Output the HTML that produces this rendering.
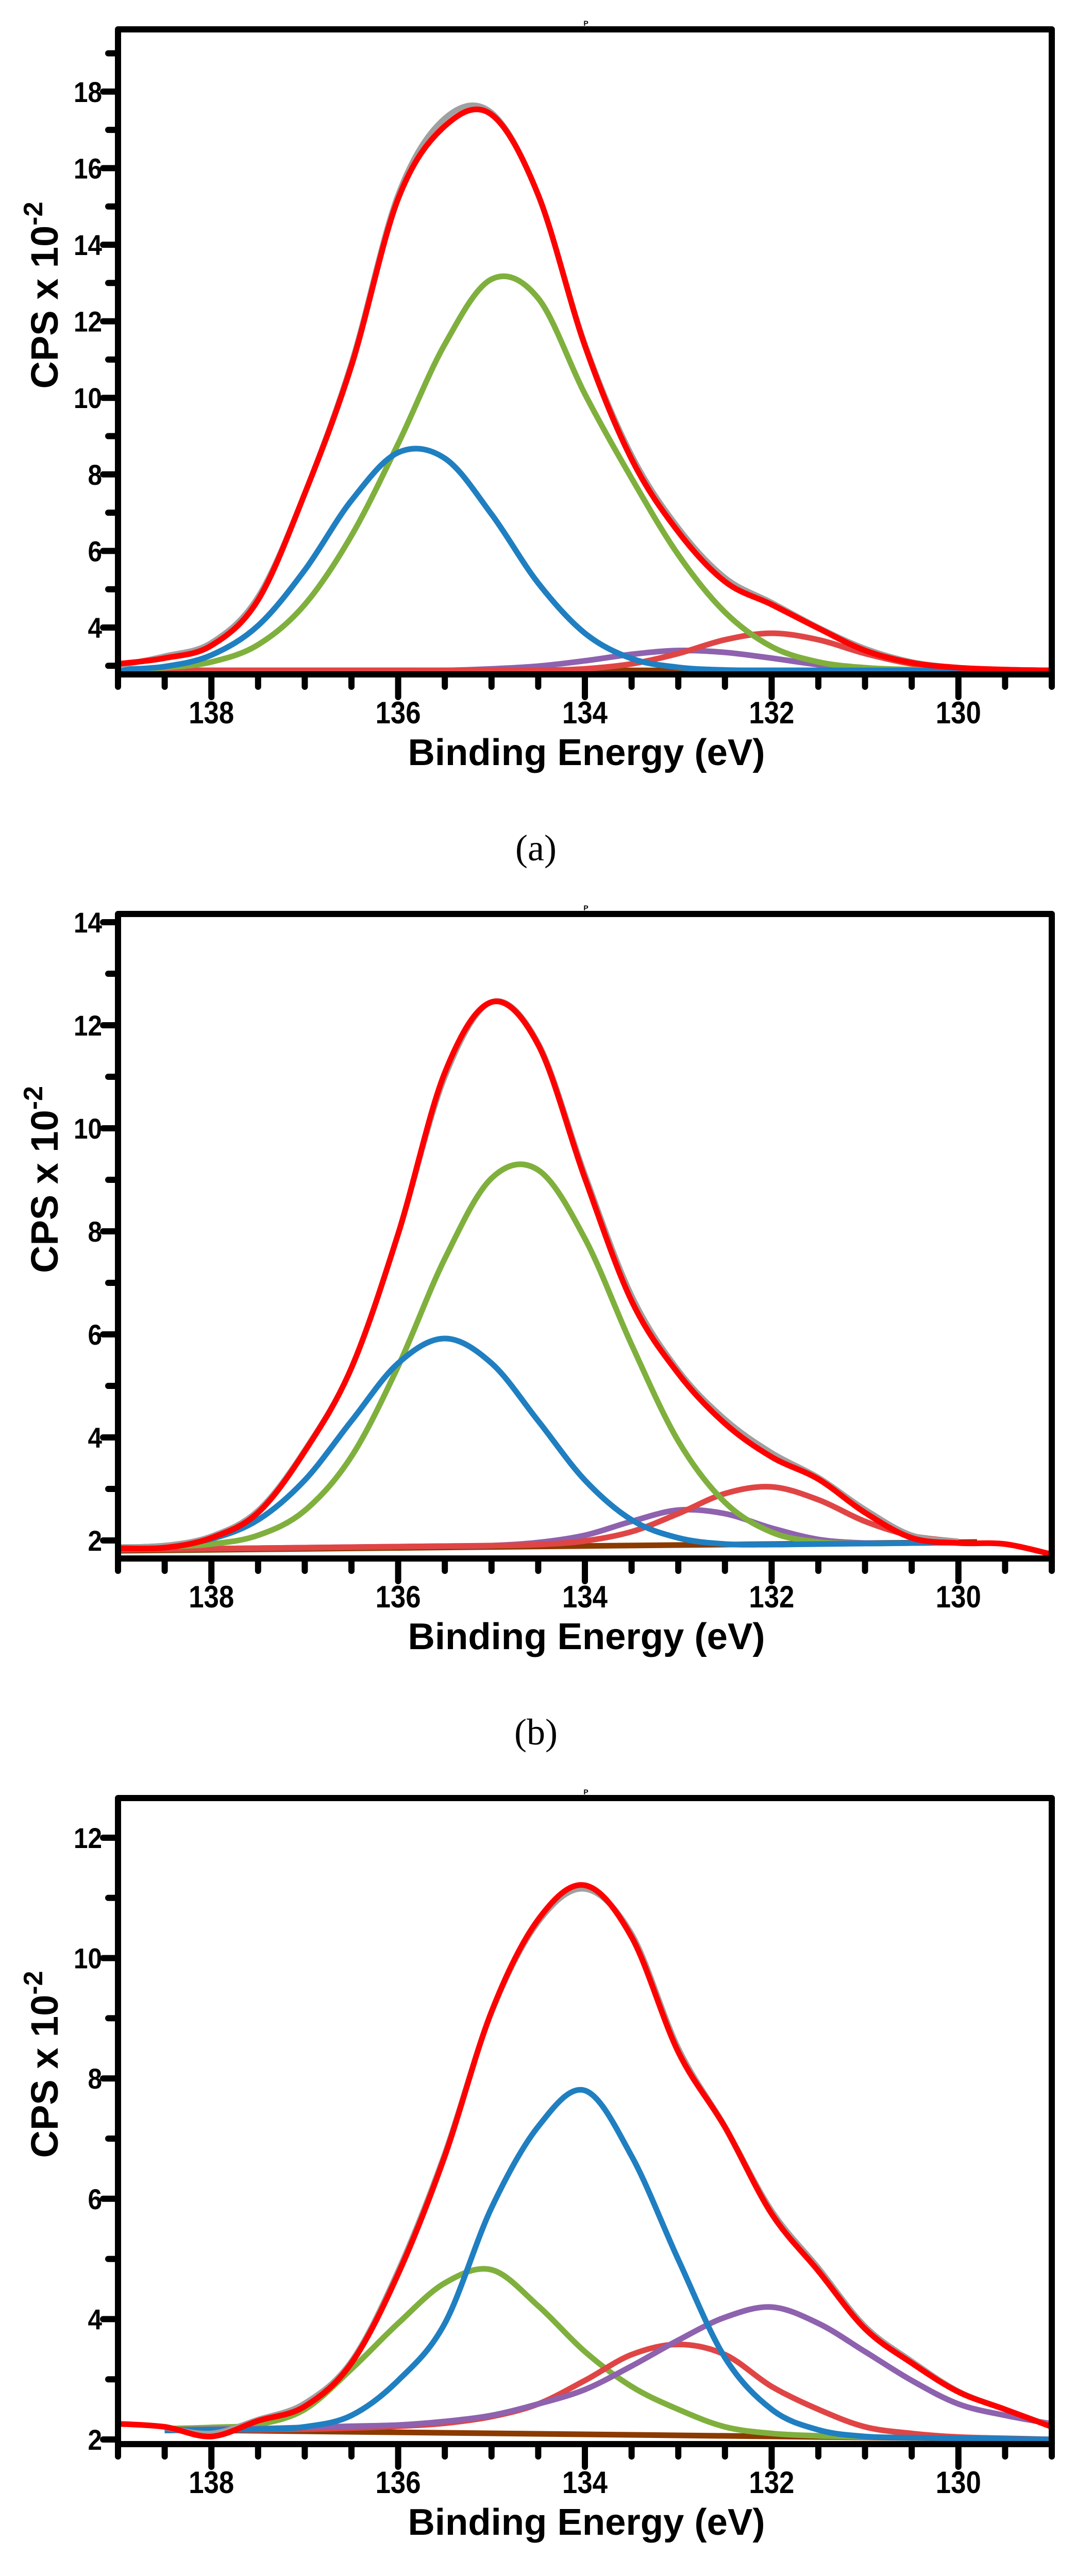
<!DOCTYPE html>
<html><head><meta charset="utf-8">
<style>
html,body{margin:0;padding:0;background:#fff;width:2088px;height:5153px;overflow:hidden;}
svg{display:block;position:absolute;left:0;top:0;}
</style></head>
<body>
<svg id="fig" width="2088" height="5153" viewBox="0 0 2088 5153" xmlns="http://www.w3.org/2000/svg" overflow="hidden"></svg>
<script>
// ---- data (binding energy grid, eV) ----
const energies = [139,138.5,138,137.5,137,136.5,136,135.5,135,134.5,134,133.5,133,132.5,132,131.5,131,130.5,130,129.5,129];
const yTicksA = [4,6,8,10,12,14,16,18];
const yTicksB = [2,4,6,8,10,12,14];
const yTicksC = [2,4,6,8,10,12];
const xTickLabels = [138,136,134,132,130];

// panel (a)
const aGrey  = [3.0,3.25,3.6,4.8,7.5,10.9,15.3,17.3,17.45,15.3,11.4,8.5,6.6,5.3,4.65,4.0,3.45,3.1,2.95,2.9,2.88];
const aRed   = [3.05,3.2,3.53,4.72,7.5,10.84,15.2,17.1,17.4,15.3,11.36,8.4,6.5,5.2,4.6,3.98,3.4,3.08,2.95,2.9,2.88];
const aBlue  = [2.90,2.98,3.28,4.05,5.50,7.32,8.57,8.42,6.96,5.16,3.85,3.19,2.96,2.89,2.88,2.88,2.88,2.88,2.88,2.88,2.88];
const aGreen = [2.90,2.95,3.10,3.55,4.6,6.4,8.8,11.4,13.1,12.6,10.1,7.9,5.9,4.4,3.5,3.1,2.95,2.9,2.88,2.88,2.88];
const aComp  = [2.88,2.88,2.88,2.88,2.88,2.88,2.88,2.88,2.88,2.88,2.92,3.05,3.32,3.68,3.85,3.68,3.32,3.05,2.92,2.89,2.88];
const aPurple= [2.88,2.88,2.88,2.88,2.88,2.88,2.88,2.88,2.92,2.99,3.13,3.30,3.40,3.35,3.20,3.03,2.94,2.89,2.88,2.88,2.88];
const aBaseE = [139,129];
const aBase  = [2.88,2.88];

// panel (b)
const bGrey  = [1.87,1.9,2.08,2.58,3.75,5.35,7.95,11.0,12.45,11.65,9.1,6.75,5.3,4.35,3.7,3.22,2.6,2.1,1.98,null,null];
const bRed   = [1.85,1.86,2.05,2.54,3.73,5.35,7.95,11.08,12.45,11.62,9.03,6.65,5.24,4.27,3.62,3.19,2.54,2.05,1.95,1.93,1.73];
const bBlue  = [1.86,1.9,2.03,2.40,3.17,4.32,5.44,5.92,5.44,4.32,3.17,2.40,2.05,1.93,1.92,1.93,1.94,1.95,1.96,null,null];
const bGreen = [1.87,1.88,1.93,2.1,2.58,3.63,5.38,7.47,9.03,9.19,7.86,5.8,3.93,2.74,2.16,1.97,1.94,1.95,1.96,null,null];
const bComp  = [1.82,1.83,1.84,1.85,1.86,1.87,1.88,1.89,1.9,1.92,1.99,2.17,2.52,2.91,3.04,2.79,2.37,2.09,1.98,null,null];
const bPurple= [1.82,1.83,1.84,1.85,1.86,1.87,1.88,1.89,1.9,1.96,2.1,2.37,2.59,2.52,2.24,2.02,1.95,1.95,1.96,null,null];
const bBaseE = [139,129.8];
const bBase  = [1.8,1.97];

// panel (c)
const cGrey  = [null,2.2,2.1,2.33,2.6,3.3,4.8,6.75,9.1,10.6,11.15,10.4,8.5,7.2,5.8,4.85,3.88,3.3,2.8,2.5,2.22];
const cRed   = [2.26,2.21,2.05,2.31,2.55,3.27,4.75,6.71,9.11,10.64,11.21,10.35,8.44,7.19,5.75,4.8,3.84,3.27,2.79,2.5,2.21];
const cBlue  = [null,2.15,2.16,2.17,2.21,2.40,2.98,3.93,5.85,7.2,7.8,6.71,4.99,3.36,2.5,2.16,2.05,2.03,2.02,2.01,2.0];
const cGreen = [null,2.18,2.2,2.25,2.5,3.17,3.93,4.6,4.82,4.22,3.46,2.88,2.5,2.21,2.1,2.06,2.04,2.03,2.02,2.01,2.0];
const cComp  = [null,2.15,2.16,2.16,2.17,2.19,2.22,2.27,2.38,2.59,2.98,3.41,3.58,3.41,2.88,2.5,2.21,2.1,2.04,2.02,2.0];
const cPurple= [null,2.16,2.17,2.18,2.2,2.22,2.24,2.3,2.4,2.59,2.83,3.22,3.65,4.03,4.2,3.93,3.46,2.98,2.59,2.4,2.26];
const cBaseE = [138.4,129];
const cBase  = [2.16,2.0];

const NS = 'http://www.w3.org/2000/svg';
const svg = document.getElementById('fig');
function mk(tag, attrs, parent){
  const e = document.createElementNS(NS, tag);
  for (const k in attrs) e.setAttribute(k, attrs[k]);
  (parent||svg).appendChild(e);
  return e;
}
function smoothPath(pts){
  if (pts.length < 2) return '';
  let d = 'M' + pts[0][0].toFixed(1) + ',' + pts[0][1].toFixed(1);
  for (let i = 0; i < pts.length - 1; i++){
    const p0 = pts[Math.max(0,i-1)], p1 = pts[i], p2 = pts[i+1], p3 = pts[Math.min(pts.length-1,i+2)];
    const c1x = p1[0] + (p2[0]-p0[0])/6, c1y = p1[1] + (p2[1]-p0[1])/6;
    const c2x = p2[0] - (p3[0]-p1[0])/6, c2y = p2[1] - (p3[1]-p1[1])/6;
    d += ' C' + c1x.toFixed(1)+','+c1y.toFixed(1)+' '+c2x.toFixed(1)+','+c2y.toFixed(1)+' '+p2[0].toFixed(1)+','+p2[1].toFixed(1);
  }
  return d;
}

const panels = [
  {id:'a', top:57, bottom:1309, yRef:4, yRefPix:1218, pxPerUnit:74.3, yMinTick:3, yMaxTick:19, yTicks:yTicksA,
   series:[['baseline',aBaseE,aBase,'#8b3a00'],['purple',energies,aPurple,'#8e62ae'],['component-red',energies,aComp,'#e04545'],
           ['green',energies,aGreen,'#7fb03d'],['blue',energies,aBlue,'#1f7fc1'],['measured-grey',energies,aGrey,'#a0a0a0'],['envelope-red',energies,aRed,'#ff0000']]},
  {id:'b', top:1774, bottom:3025, yRef:14, yRefPix:1790, pxPerUnit:100, yMinTick:2, yMaxTick:14, yTicks:yTicksB,
   series:[['baseline',bBaseE,bBase,'#8b3a00'],['purple',energies,bPurple,'#8e62ae'],['component-red',energies,bComp,'#e04545'],
           ['green',energies,bGreen,'#7fb03d'],['blue',energies,bBlue,'#1f7fc1'],['measured-grey',energies,bGrey,'#a0a0a0'],['envelope-red',energies,bRed,'#ff0000']]},
  {id:'c', top:3490, bottom:4744, yRef:12, yRefPix:3567, pxPerUnit:116.8, yMinTick:2, yMaxTick:12, yTicks:yTicksC,
   series:[['baseline',cBaseE,cBase,'#8b3a00'],['green',energies,cGreen,'#7fb03d'],['component-red',energies,cComp,'#e04545'],
           ['purple',energies,cPurple,'#8e62ae'],['blue',energies,cBlue,'#1f7fc1'],['measured-grey',energies,cGrey,'#a0a0a0'],['envelope-red',energies,cRed,'#ff0000']]}
];
const LEFT = 229, RIGHT = 2041, XMAX = 139, XMIN = 129;
const xPix = e => LEFT + (XMAX - e) * (RIGHT - LEFT) / (XMAX - XMIN);

panels.forEach(p => {
  const yPix = v => p.yRefPix - (v - p.yRef) * p.pxPerUnit;
  const g = mk('g', {});
  
  
  const clipId = 'clip-' + p.id;
  const cp = mk('clipPath', {id: clipId}, g);
  mk('rect', {x: LEFT, y: p.top, width: RIGHT-LEFT, height: p.bottom-p.top}, cp);
  const plot = mk('g', {'clip-path': 'url(#' + clipId + ')'}, g);
  
  
  p.series.forEach(s => {
    const xs = s[1], ys = s[2];
    const pts = [];
    for (let i = 0; i < xs.length; i++) if (ys[i] !== null && ys[i] !== undefined) pts.push([xPix(xs[i]), yPix(ys[i])]);
    const path = mk('path', {d: smoothPath(pts), fill: 'none', stroke: s[3], 'stroke-width': 11, 'stroke-linejoin': 'round', 'stroke-linecap': 'butt'}, plot);
    
    
  });
  const frame = mk('rect', {x: LEFT, y: p.top, width: RIGHT-LEFT, height: p.bottom-p.top, fill: 'none', stroke: '#000', 'stroke-width': 12, 'stroke-linejoin': 'round'}, g);
  
  
  for (let k = 0; k <= 20; k++){
    const e = XMAX - k * 0.5;
    const major = (Math.abs(e - Math.round(e)) < 1e-6) && (Math.round(e) % 2 === 0);
    const t = mk('line', {x1: xPix(e), x2: xPix(e), y1: p.bottom, y2: p.bottom + (major ? 44 : 24), stroke: '#000', 'stroke-width': 12, 'stroke-linecap': 'round'}, g);
    
    
  }
  xTickLabels.forEach(v => {
    const t = mk('text', {x: xPix(v), y: p.bottom + 95, 'text-anchor': 'middle', 'font-family': '"Liberation Sans Narrow","Liberation Sans",sans-serif', 'font-weight': 'bold', 'font-size': 60, textLength: 88, lengthAdjust: 'spacingAndGlyphs'}, g);
    t.textContent = String(v);
    
    
  });
  for (let v = p.yMinTick; v <= p.yMaxTick; v++){
    const major = p.yTicks.indexOf(v) >= 0;
    const t = mk('line', {x1: LEFT, x2: LEFT - (major ? 29 : 19), y1: yPix(v), y2: yPix(v), stroke: '#000', 'stroke-width': 12, 'stroke-linecap': 'round'}, g);
    
    
  }
  p.yTicks.forEach(v => {
    const s = String(v);
    const t = mk('text', {x: 198, y: yPix(v) + 20, 'text-anchor': 'end', 'font-family': '"Liberation Sans Narrow","Liberation Sans",sans-serif', 'font-weight': 'bold', 'font-size': 56, textLength: s.length * 27.5, lengthAdjust: 'spacingAndGlyphs'}, g);
    t.textContent = s;
    
    
  });
  const cy = (p.top + p.bottom) / 2 - 110;
  const yt = mk('text', {x: 0, y: 0, transform: 'translate(112,' + cy + ') rotate(-90)', 'text-anchor': 'middle', 'font-family': '"Liberation Sans",sans-serif', 'font-weight': 'bold', 'font-size': 74}, g);
  
  
  yt.appendChild(document.createTextNode('CPS x 10'));
  const sup = mk('tspan', {dy: -30, 'font-size': 52}, yt);
  sup.textContent = '-2';
  const xt = mk('text', {x: 1138, y: p.bottom + 176, 'text-anchor': 'middle', 'font-family': '"Liberation Sans",sans-serif', 'font-weight': 'bold', 'font-size': 72, textLength: 693, lengthAdjust: 'spacingAndGlyphs'}, g);
  xt.textContent = 'Binding Energy (eV)';
  
  
  const pm = mk('text', {x: 1137, y: p.top - 7, 'text-anchor': 'middle', 'font-family': '"Liberation Sans",sans-serif', 'font-weight': 'bold', 'font-size': 14}, g);
  pm.textContent = 'P';
  
  
  const cap = mk('text', {x: 1040, y: p.bottom + 361, 'text-anchor': 'middle', 'font-family': '"Liberation Serif",serif', 'font-size': 72}, g);
  cap.textContent = '(' + p.id + ')';
  
  
});
</script>
</body></html>
